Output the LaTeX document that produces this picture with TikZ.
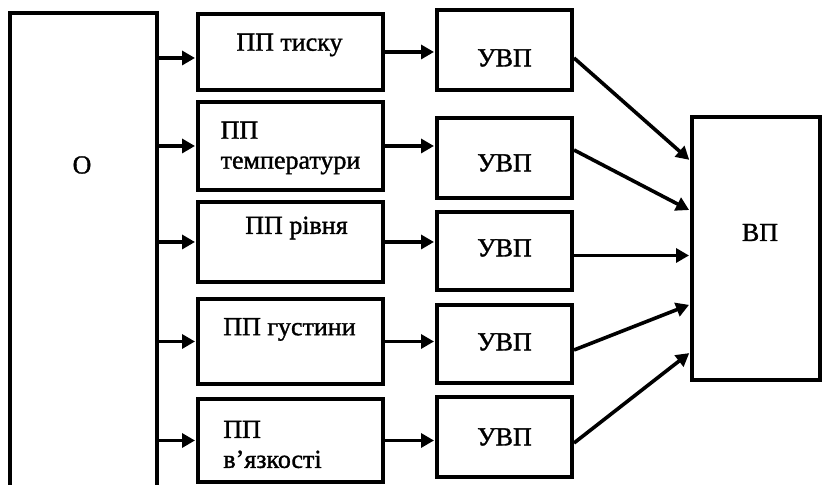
\documentclass[tikz,border=0pt]{standalone}
\usepackage{fontspec}
\setmainfont{Liberation Serif}[BoldFont=Liberation Serif, BoldFeatures={FakeBold=1.3}]
\usetikzlibrary{arrows.meta}
\begin{document}
\begin{tikzpicture}[x=0.5pt, y=0.5pt,
    every node/.style={font=\fontsize{13}{15}\selectfont\bfseries},
    box/.style={draw=black, line width=2pt, inner sep=0pt},
    txt/.style={inner sep=0pt, align=left},
    arr/.style={line width=1.8pt, -{Triangle[length=6.5pt, width=7pt]}, shorten >=0.5pt}]
        \useasboundingbox (0,0) rectangle (823,485);
        \clip (0,0) rectangle (823,485);

        % object
        \node[box, minimum width=73.5pt, minimum height=243.5pt] (o) at (83.5,228.5) {};
        \node[txt] (o-txt) at (82,320) {О};

        % primary transducers
        \node[box, minimum width=92.5pt, minimum height=38pt] (pp1) at (290.5,433) {};
        \node[box, minimum width=92.5pt, minimum height=44pt] (pp2) at (290.5,339) {};
        \node[box, minimum width=92.5pt, minimum height=40pt] (pp3) at (290.5,243) {};
        \node[box, minimum width=92.5pt, minimum height=42.5pt] (pp4) at (290.5,143.5) {};
        \node[box, minimum width=92.5pt, minimum height=41.5pt] (pp5) at (290.5,44.5) {};

        \node[txt] (pp1-txt) at ([xshift=-0.5pt, yshift=3.5pt]pp1.center) {ПП тиску};
        \node[txt] (pp2-txt) at ([yshift=-1pt]pp2.center) {ПП\\температури};
        \node[txt] (pp3-txt) at ([xshift=3pt, yshift=7pt]pp3.center) {ПП рівня};
        \node[txt] (pp4-txt) at ([xshift=-0.5pt, yshift=6pt]pp4.center) {ПП густини};
        \node[txt] (pp5-txt) at ([xshift=-9pt, yshift=-2pt]pp5.center) {ПП\\в’язкості};

        % matching converters
        \node[box, minimum width=67.5pt, minimum height=40pt] (uvp1) at (504.5,435) {};
        \node[box, minimum width=67.5pt, minimum height=40pt] (uvp2) at (504.5,327) {};
        \node[box, minimum width=67.5pt, minimum height=39pt] (uvp3) at (504.5,234) {};
        \node[box, minimum width=67.5pt, minimum height=39pt] (uvp4) at (504.5,141) {};
        \node[box, minimum width=67.5pt, minimum height=40pt] (uvp5) at (504.5,48) {};

        \node[txt] (uvp1-txt) at ([yshift=-4pt]uvp1.center) {УВП};
        \node[txt] (uvp2-txt) at ([yshift=-2.5pt]uvp2.center) {УВП};
        \node[txt] (uvp3-txt) at ([yshift=1.5pt]uvp3.center) {УВП};
        \node[txt] (uvp4-txt) at ([yshift=1pt]uvp4.center) {УВП};
        \node[txt] (uvp5-txt) at (uvp5.center) {УВП};

        % processing unit
        \node[box, minimum width=64pt, minimum height=131.5pt] (vp) at (756,236.5) {};
        \node[txt] (vp-txt) at ([xshift=2pt, yshift=8pt]vp.center) {ВП};

        \coordinate (in1) at ([yshift=-3pt]pp1.west);
        \draw[arr] (o.east |- in1) -- (in1);
        \draw[arr] (o.east |- pp2.west) -- (pp2.west);
        \draw[arr] (o.east |- pp3.west) -- (pp3.west);
        \draw[arr] (o.east |- pp4.west) -- (pp4.west);
        \draw[arr] (o.east |- pp5.west) -- (pp5.west);

        \draw[arr] (pp1.east) -- (pp1.east -| uvp1.west);
        \draw[arr] (pp2.east) -- (pp2.east -| uvp2.west);
        \draw[arr] (pp3.east) -- (pp3.east -| uvp3.west);
        \draw[arr] (pp4.east) -- (pp4.east -| uvp4.west);
        \draw[arr] (pp5.east) -- (pp5.east -| uvp5.west);

        \draw[arr] ([yshift=-4pt]uvp1.east) -- ([yshift=44pt]vp.west);
        \draw[arr] ([yshift=4pt]uvp2.east) -- ([yshift=19pt]vp.west);
        \draw[arr] ([yshift=-2.25pt]uvp3.east) -- ([yshift=-3.5pt]vp.west);
        \draw[arr] ([yshift=-3pt]uvp4.east) -- ([yshift=-28pt]vp.west);
        \draw[arr] ([yshift=-3pt]uvp5.east) -- ([yshift=-52pt]vp.west);
    \end{tikzpicture}
\end{document}
